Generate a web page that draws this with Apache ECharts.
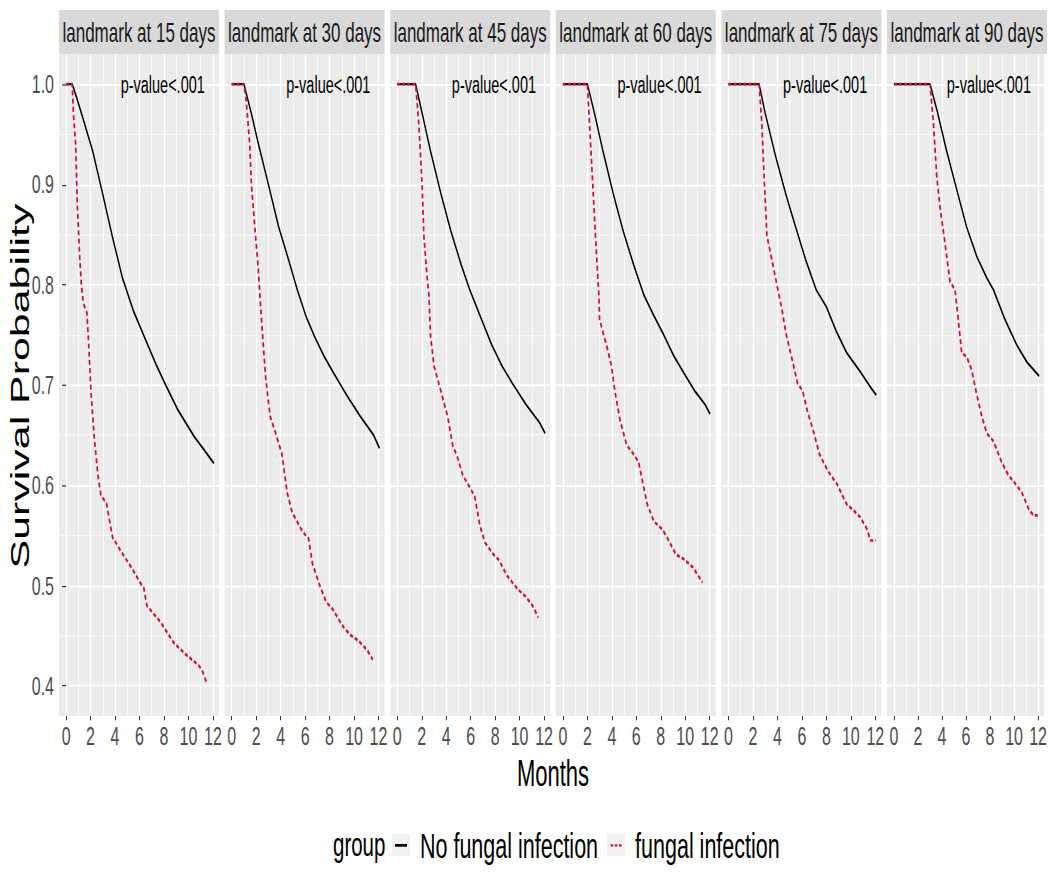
<!DOCTYPE html>
<html>
<head>
<meta charset="utf-8">
<title>Landmark survival</title>
<script src="https://cdn.jsdelivr.net/npm/echarts@6/dist/echarts.min.js"></script>
<style>
  html, body { margin: 0; padding: 0; background: #fff; }
  #wrap { width: 1050px; height: 878px; position: relative; overflow: hidden; }
  /* the original figure is a ggplot stretched vertically, so draw flat and stretch */
  #main { position: absolute; left: 0; top: 0; width: 1050px; height: 532px;
          transform: scaleY(1.65); transform-origin: 0 0; }
</style>
</head>
<body>
<div id="wrap"><div id="main"></div></div>
<script>
// facet titles and axis ticks
var panelTitles = ['landmark at 15 days', 'landmark at 30 days', 'landmark at 45 days',
                   'landmark at 60 days', 'landmark at 75 days', 'landmark at 90 days'];
var xTicks = [0, 2, 4, 6, 8, 10, 12];
var xMinorTicks = [1, 3, 5, 7, 9, 11];
var yTicks = [0.4, 0.5, 0.6, 0.7, 0.8, 0.9, 1.0];
var yMinorTicks = [0.45, 0.55, 0.65, 0.75, 0.85, 0.95];
var pValueText = 'p-value<.001';
var groupNames = ['No fungal infection', 'fungal infection'];

// [month, survival]
var noFungal15 = [[0,1],[0.5,1],[0.9,0.985],[1.4,0.965],[2.2,0.932],[3.0,0.89],[3.8,0.847],[4.6,0.807],[5.5,0.774],[6.5,0.745],[7.3,0.722],[8.1,0.701],[9.1,0.676],[10.5,0.648],[11.3,0.635],[12.08,0.622]];
var fungal15 = [[0,1],[0.5,1],[0.6,0.97],[0.78,0.94],[0.92,0.88],[1.1,0.83],[1.25,0.8],[1.4,0.782],[1.7,0.772],[1.85,0.74],[2.05,0.69],[2.3,0.648],[2.6,0.61],[2.85,0.59],[3.3,0.582],[3.8,0.548],[4.7,0.53],[5.4,0.517],[6.05,0.503],[6.35,0.498],[6.6,0.48],[7.7,0.464],[8.8,0.443],[9.9,0.43],[10.8,0.421],[11.1,0.416],[11.5,0.403]];

var noFungal30 = [[0,1],[1,1],[1.6,0.971],[2.17,0.941],[3.0,0.9],[3.83,0.858],[4.67,0.824],[5.36,0.795],[6.06,0.769],[6.75,0.749],[7.58,0.728],[8.28,0.713],[9.39,0.69],[10.5,0.669],[11.6,0.65],[12.08,0.637]];
var fungal30 = [[0,1],[1,1],[1.19,0.983],[1.47,0.941],[1.61,0.9],[1.89,0.858],[2.17,0.816],[2.39,0.774],[2.58,0.74],[2.78,0.707],[3.14,0.669],[3.69,0.648],[4.11,0.631],[4.53,0.593],[4.94,0.573],[5.78,0.554],[6.28,0.547],[6.6,0.522],[7.17,0.501],[7.72,0.484],[8.28,0.476],[9.11,0.459],[9.67,0.451],[10.36,0.445],[11.06,0.436],[11.53,0.426]];

var noFungal45 = [[0,1],[1.5,1],[2.03,0.971],[2.72,0.933],[3.56,0.891],[4.39,0.853],[5.22,0.82],[5.92,0.795],[6.9,0.765],[7.72,0.74],[8.56,0.719],[9.39,0.702],[10.5,0.681],[11.6,0.663],[12.08,0.652]];
var fungal45 = [[0,1],[1.5,1],[1.75,0.962],[2.03,0.9],[2.17,0.849],[2.44,0.807],[2.58,0.79],[2.72,0.749],[3.0,0.719],[3.56,0.694],[4.11,0.669],[4.53,0.64],[4.94,0.627],[5.36,0.61],[5.92,0.598],[6.33,0.589],[6.75,0.56],[7.17,0.543],[7.86,0.531],[8.28,0.526],[8.97,0.51],[9.8,0.497],[10.5,0.489],[11.06,0.48],[11.53,0.468]];

var noFungal60 = [[0,1],[2,1],[2.58,0.971],[3.28,0.933],[4.11,0.891],[4.94,0.853],[5.78,0.82],[6.61,0.79],[7.44,0.769],[8.28,0.749],[9.11,0.728],[9.94,0.711],[10.78,0.694],[11.6,0.681],[12.03,0.671]];
var fungal60 = [[0,1],[2,1],[2.17,0.962],[2.44,0.9],[2.72,0.836],[2.94,0.79],[3.0,0.765],[3.56,0.74],[3.97,0.719],[4.25,0.694],[4.67,0.665],[5.22,0.64],[5.78,0.631],[6.19,0.623],[6.47,0.606],[6.9,0.581],[7.44,0.564],[8.14,0.556],[8.56,0.547],[9.25,0.531],[9.94,0.526],[10.64,0.518],[11.42,0.503]];

var noFungal75 = [[0,1],[2.5,1],[3.0,0.971],[3.83,0.929],[4.67,0.891],[5.5,0.857],[6.33,0.824],[7.17,0.795],[8.0,0.778],[8.83,0.753],[9.67,0.732],[10.78,0.713],[11.6,0.698],[12.08,0.69]];
var fungal75 = [[0,1],[2.5,1],[2.72,0.962],[2.94,0.9],[3.14,0.849],[3.56,0.824],[3.97,0.799],[4.39,0.774],[4.67,0.753],[5.08,0.732],[5.64,0.702],[6.06,0.694],[6.47,0.673],[6.9,0.656],[7.44,0.631],[8.14,0.614],[8.83,0.602],[9.67,0.581],[10.22,0.575],[10.78,0.568],[11.33,0.556],[11.6,0.545],[12.03,0.545]];

var noFungal90 = [[0,1],[3,1],[3.56,0.975],[4.39,0.933],[5.22,0.895],[6.06,0.857],[6.9,0.828],[7.72,0.807],[8.28,0.795],[9.25,0.765],[10.22,0.74],[11.06,0.723],[12.08,0.709]];
var fungal90 = [[0,1],[3,1],[3.28,0.962],[3.56,0.908],[3.83,0.878],[4.25,0.841],[4.67,0.803],[5.08,0.795],[5.36,0.765],[5.64,0.732],[6.06,0.728],[6.47,0.715],[6.9,0.69],[7.31,0.669],[7.72,0.652],[8.28,0.644],[8.97,0.623],[9.53,0.61],[10.08,0.602],[10.64,0.593],[11.19,0.577],[11.6,0.57],[12.08,0.57]];

var noFungalAll = [noFungal15, noFungal30, noFungal45, noFungal60, noFungal75, noFungal90];
var fungalAll = [fungal15, fungal30, fungal45, fungal60, fungal75, fungal90];

var FONT = '"Liberation Sans", Arial, sans-serif';
var RED = '#cc1133';
var S = 1.65; // vertical stretch applied by css

// panel geometry (y values in unstretched units)
var left0 = 59, step = 165.6, pw = 160, top0 = 54 / S, ph = 662 / S;

var chart = echarts.init(document.getElementById('main'), null, { renderer: 'svg' });

var grids = [], xAxes = [], yAxes = [], series = [], graphics = [];

for (var i = 0; i < 6; i++) {
  var l = left0 + step * i;
  grids.push({
    left: l, top: top0, width: pw, height: ph,
    show: true, backgroundColor: '#EBEBEB', borderWidth: 0
  });
  // main x axis: labels, ticks, major grid
  xAxes.push({
    gridIndex: i, type: 'value', min: -0.58, max: 12.5, position: 'bottom',
    axisLine: { show: false },
    axisTick: { show: true, customValues: xTicks, length: 2.6, lineStyle: { color: '#333', width: 1 } },
    axisLabel: { customValues: xTicks, fontSize: 16, color: '#4D4D4D', fontFamily: FONT, margin: 4 },
    splitLine: { show: true, lineStyle: { color: '#fff', width: 1.2 } }
  });
  // minor x grid
  xAxes.push({
    gridIndex: i, type: 'value', min: -0.58, max: 12.5, position: 'top',
    axisLine: { show: false },
    axisTick: { show: false, customValues: xMinorTicks },
    axisLabel: { show: false, customValues: xMinorTicks },
    splitLine: { show: true, lineStyle: { color: '#fff', width: 0.7 } }
  });
  yAxes.push({
    gridIndex: i, type: 'value', min: 0.37, max: 1.03, position: 'left',
    axisLine: { show: false },
    axisTick: { show: i === 0, customValues: yTicks, length: 4, lineStyle: { color: '#333', width: 0.8 } },
    axisLabel: {
      show: i === 0, customValues: yTicks, fontSize: 16, color: '#4D4D4D', fontFamily: FONT, margin: 5,
      formatter: function (v) { return v.toFixed(1); }
    },
    splitLine: { show: true, lineStyle: { color: '#fff', width: 1.1 } }
  });
  yAxes.push({
    gridIndex: i, type: 'value', min: 0.37, max: 1.03, position: 'right',
    axisLine: { show: false },
    axisTick: { show: false, customValues: yMinorTicks },
    axisLabel: { show: false, customValues: yMinorTicks },
    splitLine: { show: true, lineStyle: { color: '#fff', width: 0.55 } }
  });

  series.push({
    name: groupNames[0], type: 'line', xAxisIndex: 2 * i, yAxisIndex: 2 * i,
    data: noFungalAll[i], showSymbol: false, symbol: 'none',
    lineStyle: { color: '#000', width: 1.4 }, itemStyle: { color: '#000' },
    z: 3,
    markPoint: {
      symbol: 'circle', symbolSize: 1, itemStyle: { color: 'rgba(0,0,0,0)' },
      label: { show: true, position: 'inside', formatter: pValueText, fontSize: 14.5, color: '#000', fontFamily: FONT },
      data: [{ coord: [7.9, 1.0] }]
    }
  });
  series.push({
    name: groupNames[1], type: 'line', xAxisIndex: 2 * i, yAxisIndex: 2 * i,
    data: fungalAll[i], showSymbol: false, symbol: 'none',
    lineStyle: { color: RED, width: 1.7, type: [3, 2] }, itemStyle: { color: RED },
    z: 4
  });

  // facet strip
  graphics.push({
    type: 'rect', left: l, top: 10 / S, z: 0,
    shape: { width: pw, height: 44 / S },
    style: { fill: '#D9D9D9' }
  });
  graphics.push({
    type: 'text', x: l + pw / 2, y: 32 / S, z: 1,
    style: { text: panelTitles[i], fontSize: 17, fontFamily: FONT, fill: '#1A1A1A',
             textAlign: 'center', textVerticalAlign: 'middle' }
  });
}

// axis titles and legend title
graphics.push({
  type: 'text', x: 20, y: 386 / S, rotation: Math.PI / 2,
  style: { text: 'Survival Probability', fontSize: 26, fontFamily: FONT,
           fill: '#000', textAlign: 'center', textVerticalAlign: 'middle' }
});
graphics.push({
  type: 'text', x: 553, y: 773 / S,
  style: { text: 'Months', fontSize: 22, fontFamily: FONT, fill: '#000',
           textAlign: 'center', textVerticalAlign: 'middle' }
});
graphics.push({
  type: 'text', x: 333, y: 845 / S,
  style: { text: 'group', fontSize: 20.5, fontFamily: FONT, fill: '#000',
           textAlign: 'left', textVerticalAlign: 'middle' }
});

// legend layout: grey key boxes behind the legend icons
var legLeft = 392, keyW = 18, keyH = 22 / S, legGap = 9, legFont = 21.5, textPad = 5;
var ctx = document.createElement('canvas').getContext('2d');
ctx.font = legFont + 'px "Liberation Sans"';
var firstTextW = ctx.measureText(groupNames[0]).width;
var legCenter = 845 / S;
graphics.push({ type: 'rect', left: legLeft, top: legCenter - keyH / 2, z: -1,
                shape: { width: keyW, height: keyH }, style: { fill: '#F2F2F2' } });
graphics.push({ type: 'rect', left: legLeft + keyW + 5 + textPad + firstTextW + legGap, top: legCenter - keyH / 2, z: -1,
                shape: { width: keyW, height: keyH }, style: { fill: '#F2F2F2' } });

// key icons: tiny corner specks fix the box so the line stays thin
var corners = 'M0,0h0.01v0.01h-0.01z M18,13.3h0.01v0.01h-0.01z ';
var solidKey = 'path://' + corners + 'M3,5.8h12v1.7h-12z';
var dottedKey = 'path://' + corners + 'M3.5,6h2.6v1.3h-2.6z M7.7,6h2.6v1.3h-2.6z M11.9,6h2.6v1.3h-2.6z';

chart.setOption({
  animation: false,
  backgroundColor: '#fff',
  grid: grids,
  xAxis: xAxes,
  yAxis: yAxes,
  series: series,
  legend: {
    data: [{ name: groupNames[0], icon: solidKey }, { name: groupNames[1], icon: dottedKey }],
    left: legLeft, top: legCenter - legFont / 2, padding: 0,
    itemWidth: keyW, itemHeight: keyH, itemGap: legGap,
    textStyle: { fontSize: legFont, fontFamily: FONT, color: '#000', padding: [0, 0, 0, textPad] }
  },
  graphic: graphics
});

window.onresize = function () { chart.resize(); };
</script>
</body>
</html>
